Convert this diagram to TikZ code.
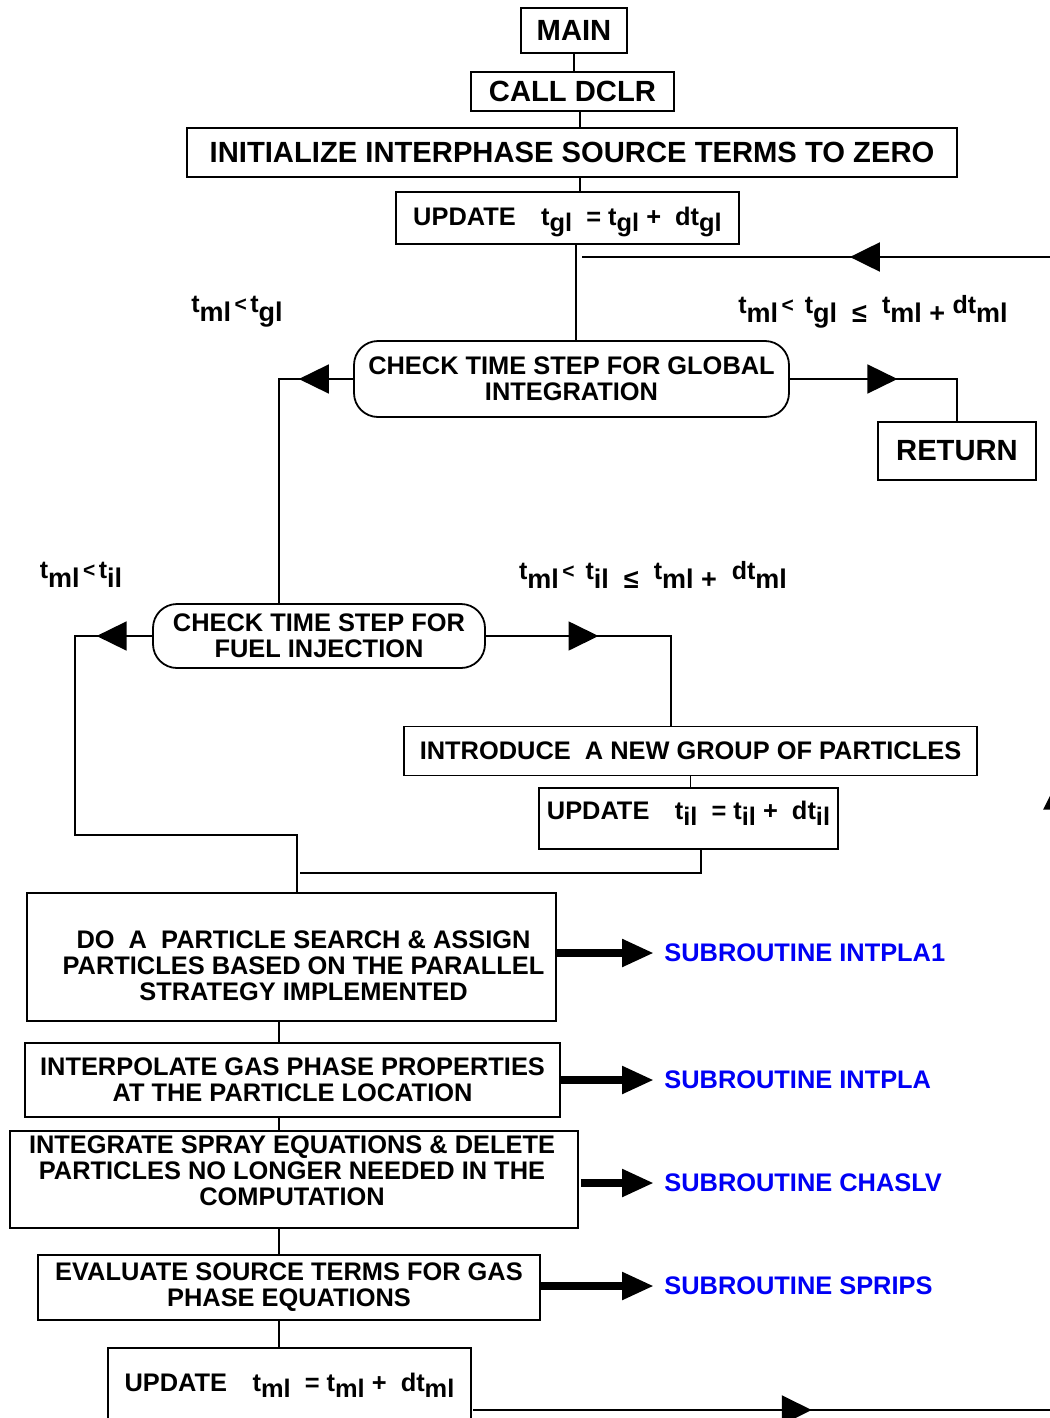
\documentclass[tikz,border=0pt]{standalone}
\usepackage{fontspec}
\setmainfont{Liberation Sans}
\usetikzlibrary{arrows.meta,decorations.markings}
\definecolor{subblue}{RGB}{0,0,245}
\newcommand{\boxfont}{\fontsize{12.7}{13}\selectfont\bfseries}
\newcommand{\headfont}{\fontsize{14.6}{15}\selectfont\bfseries}
\newcommand{\lo}[1]{\raisebox{-0.45ex}{#1}}
\newcommand{\up}[1]{\raisebox{4.5pt}{\fontsize{12.5}{12}\selectfont #1}}
\newcommand{\lt}{\raisebox{5pt}{\fontsize{10.5}{10}\selectfont\,<\,}}
\tikzset{
  box/.style={draw, line width=0.9pt, inner sep=0pt, align=center, font=\boxfont},
  rbox/.style={box, rounded corners=12pt},
  boxtext/.style={inner sep=0pt, align=center, font=\boxfont},
  link/.style={line width=0.8pt},
  flow/.style={line width=1.1pt},
  tip/.style={postaction={decorate, decoration={markings,
      mark=at position #1 with {\arrow{Triangle[length=15pt,width=14.5pt]}}}}},
  callarrow/.style={line width=4pt, -{Triangle[length=16pt,width=13pt]}, shorten >=5pt},
  cond/.style={font=\fontsize{13.5}{13}\selectfont\bfseries, inner sep=0pt},
  subr/.style={anchor=west, inner sep=0pt, text=subblue, font=\fontsize{12.7}{13}\selectfont\bfseries}
}
\begin{document}
\begin{tikzpicture}[x=0.5pt, y=-0.5pt]
	\useasboundingbox (0,0) rectangle (1049,1418);
	% column lines
	\coordinate (axis) at (580,0);
	\coordinate (gaxis) at (576,0);
	\coordinate (lcol) at (279,0);
	\coordinate (farl) at (75,0);
	\coordinate (dcol) at (297,0);
	\coordinate (icol) at (671,0);
	\coordinate (ucol) at (701,0);
	\coordinate (spine) at (279,0);
	% boxes at the top
	\node[box, font=\headfont, minimum width=53pt, minimum height=22.5pt] (main) at (574,30.5) {MAIN};
	\node[box, font=\headfont, minimum width=101.5pt, minimum height=19.5pt] (call) at (572.5,91.5) {CALL DCLR};
	\node[box, font=\headfont, minimum width=385pt, minimum height=24.5pt] (init) at (572,152.5)
		{INITIALIZE INTERPHASE SOURCE TERMS TO ZERO};
	\node[box, minimum width=171.5pt, text height=16.5pt, text depth=9.5pt] (updgl) at (567.5,218)
		{UPDATE\quad t\lo{gl}\ \ = t\lo{gl} + \ dt\lo{gl}};
	\node[rbox, minimum width=217.5pt, minimum height=38pt] (glob) at (571.5,379)
		{CHECK TIME STEP FOR GLOBAL\\INTEGRATION};
	\node[box, font=\headfont, minimum width=79pt, minimum height=29pt] (ret) at (957,451) {RETURN};
	% injection part
	\node[rbox, minimum width=166pt, minimum height=32pt] (fuel) at (319,636)
		{CHECK TIME STEP FOR\\FUEL INJECTION};
	\node[box, minimum width=286.5pt, minimum height=24.5pt] (intro) at (690.5,751)
		{INTRODUCE\ \ A NEW GROUP OF PARTICLES};
	\node[box, minimum width=149.5pt, text height=15.5pt, text depth=15pt] (updil) at (688.5,818.5)
		{UPDATE\quad t\lo{il}\ \ = t\lo{il} + \ dt\lo{il}};
	% particle part
	\node[box, minimum width=264.5pt, minimum height=64pt] (do) at (291.5,957) {};
	\node[boxtext] (dotxt) at (303.5,966)
		{DO\ \ A\ \ PARTICLE SEARCH \& ASSIGN\\PARTICLES BASED ON THE PARALLEL\\STRATEGY IMPLEMENTED};
	\node[box, minimum width=267.5pt, minimum height=37pt] (interp) at (292.5,1080)
		{INTERPOLATE GAS PHASE PROPERTIES\\AT THE PARTICLE LOCATION};
	\node[box, minimum width=284pt, minimum height=48.5pt] (integ) at (294,1179.5) {};
	\node[boxtext] (integtxt) at (292,1171)
		{INTEGRATE SPRAY EQUATIONS \& DELETE\\PARTICLES NO LONGER NEEDED IN THE\\COMPUTATION};
	\node[box, minimum width=251pt, minimum height=32.5pt] (eval) at (289,1287.5)
		{EVALUATE SOURCE TERMS FOR GAS\\PHASE EQUATIONS};
	\node[box, minimum width=181.5pt, text height=21.5pt, text depth=24.5pt] (updml) at (289.5,1394)
		{UPDATE\quad t\lo{ml}\ \ = t\lo{ml} + \ dt\lo{ml}};
	% subroutines
	\node[subr] (sr1) at (664,953) {SUBROUTINE INTPLA1};
	\node[subr] (sr2) at (664,1080) {SUBROUTINE INTPLA};
	\node[subr] (sr3) at (664,1183) {SUBROUTINE CHASLV};
	\node[subr] (sr4) at (664,1286) {SUBROUTINE SPRIPS};
	% conditions
	\node[cond] (c1) at (237,312) {\up{t}ml\lt\up{t}gl};
	\node[cond] (c2) at (873,312) {\up{t}ml\lt\ \up{t}gl\ \ ≤\ \ \up{t}ml +\ \up{dt}ml};
	\node[cond] (c3) at (81,575) {\up{t}ml\lt\up{t}il};
	\node[cond] (c4) at (653,575) {\up{t}ml\lt\ \up{t}il\ \ ≤\ \ \up{t}ml +\ \ \up{dt}ml};
	% straight links
	\draw[link] (main.south) -- (main.south |- call.north);
	\draw[link] (call.south -| axis) -- (init.north -| axis);
	\draw[link] (init.south -| axis) -- (updgl.north -| axis);
	\draw[link] (updgl.south -| gaxis) -- (glob.north -| gaxis);
	\draw[link] (intro.south) -- (intro.south |- updil.north);
	\draw[link] (do.south -| spine) -- (interp.north -| spine);
	\draw[link] (interp.south -| spine) -- (integ.north -| spine);
	\draw[link] (integ.south -| spine) -- (eval.north -| spine);
	\draw[link] (eval.south -| spine) -- (updml.north -| spine);
	% branches
	\draw[link, tip=0.514] (glob.east) -- (ret.north |- glob.east) -- (ret.north);
	\draw[link, tip=0.182] (glob.west) -- (glob.west -| lcol) -- (fuel.north -| lcol);
	\draw[link, tip=0.1] (fuel.west) -- (fuel.west -| farl) -- (farl |- 0,835) -- (dcol |- 0,835) -- (do.north -| dcol);
	\draw[link, tip=0.41] (fuel.east) -- (fuel.east -| icol) -- (intro.north -| icol);
	\coordinate (join) at (300,873);
	\draw[link] (updil.south -| ucol) -- (ucol |- join) -- (join);
	% loop back to the global time step
	\coordinate (back) at (582,257);
	\draw[flow, tip=0.153, tip=0.549, tip=0.879] (473,1410) -- (1058,1410) -- (1058,257) -- (back);
	% calls
	\draw[callarrow] (do.east |- sr1.west) -- (sr1.west);
	\draw[callarrow] (interp.east |- sr2.west) -- (sr2.west);
	\draw[callarrow] ([xshift=1pt]integ.east |- sr3.west) -- (sr3.west);
	\draw[callarrow] (eval.east |- sr4.west) -- (sr4.west);
\end{tikzpicture}
\end{document}
